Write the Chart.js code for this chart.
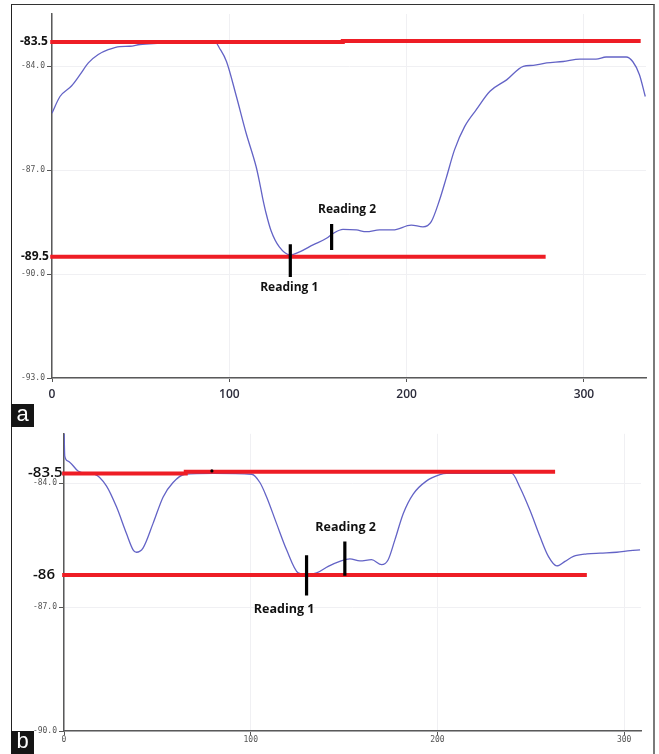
<!DOCTYPE html>
<html><head><meta charset="utf-8">
<script src="https://cdn.jsdelivr.net/npm/chart.js@4"></script>
<style>
html,body{margin:0;padding:0;background:#fff;}
body{width:659px;height:754px;position:relative;overflow:hidden;}
.wrap{position:absolute;}
#wa{left:11px;top:4px;width:644px;height:423px;}
#wb{left:11px;top:427px;width:644px;height:327px;}
#frame{position:absolute;left:11px;top:4px;width:644px;height:760px;box-sizing:border-box;border-left:1.5px solid #222;border-top:1.5px solid #333;border-right:2px solid #7a7a7a;pointer-events:none;}
.tag{position:absolute;left:11px;width:23px;height:23px;background:#151515;color:#fff;font:22px 'Liberation Sans',Arial,sans-serif;text-align:center;line-height:20px;}
</style>
</head><body>
<div class="wrap" id="wa"><canvas id="ca" width="644" height="423"></canvas></div>
<div class="wrap" id="wb"><canvas id="cb" width="644" height="327"></canvas></div>
<div id="frame"></div>
<div class="tag" style="top:404px;">a</div>
<div class="tag" style="top:731px;">b</div>
<script>
// ---------- Panel a data ----------
const A_X = [0,4.5,11.1,15.8,20.5,26.1,31.7,38.3,43.9,49.6,60.8,70,80,91.8,94.4,98.4,104,109.5,115.1,117.0,118.8,120.7,123.6,128.2,134.3,139.7,147.2,154.8,158.5,164.1,171.7,177.3,184.8,192.3,202.6,209.2,213.9,218.6,222.4,227,232.7,239.3,247,256.4,265.8,271.4,279,288.3,297.7,306.8,312.5,323.8,327.5,331.3,334.6];
const A_Y = [-85.36,-84.88,-84.57,-84.25,-83.91,-83.67,-83.53,-83.44,-83.43,-83.38,-83.34,-83.31,-83.30,-83.29,-83.48,-83.87,-84.88,-85.94,-86.90,-87.34,-87.81,-88.24,-88.76,-89.22,-89.45,-89.36,-89.16,-88.97,-88.83,-88.71,-88.73,-88.78,-88.73,-88.73,-88.59,-88.64,-88.49,-87.86,-87.22,-86.42,-85.75,-85.26,-84.73,-84.40,-84.01,-83.98,-83.91,-83.87,-83.80,-83.80,-83.74,-83.74,-83.87,-84.25,-84.88];
const A_XTICKS = [0,100,200,300];
const A_YTICKS = [-93,-90,-87,-84];
const A_XMAX = 335, A_YMIN = -93, A_YMAX = -82.5;
// reference lines (red)
const A_TOP_X = [-1,164,164,332];
const A_TOP_Y = [-83.31,-83.31,-83.28,-83.28];
const A_BOT_X = [-1,278.4];
const A_BOT_Y = [-89.5,-89.5];
const A_LINE_LABELS = ['-83.5','-89.5'];
const A_LINE_LABEL_Y = [-83.3,-89.5];
// reading markers
const A_READ_X = [134.4,157.7];
const A_READ_Y0 = [-89.14,-88.56];
const A_READ_Y1 = [-90.09,-89.31];
const A_READ_TEXT = ['Reading 1','Reading 2'];
const A_READ_TX = [133.8,166.4];
const A_READ_TY = [-90.38,-88.15];

// ---------- Panel b data ----------
const B_X = [0,0.4,2.1,7.5,12,16.5,22.7,28.1,33.4,37,38.8,42.3,47.7,53.1,58.4,64.7,80,100.4,104.9,108.5,113.8,119.2,125.4,129.9,135.3,141.5,147.7,153.1,158.5,164.7,170.1,173.6,177.2,181.7,187,194.2,201.3,204.9,220,239.8,244.2,249.6,254.9,259.4,263.9,268.3,272.8,280,287.1,296,303.2,308.5];
const B_Y = [-82.6,-83.34,-83.46,-83.70,-83.76,-83.78,-84.06,-84.57,-85.21,-85.61,-85.67,-85.57,-84.97,-84.33,-83.98,-83.78,-83.76,-83.78,-83.98,-84.33,-84.97,-85.61,-86.17,-86.21,-86.17,-86.01,-85.89,-85.83,-85.88,-85.85,-85.97,-85.85,-85.37,-84.73,-84.26,-83.94,-83.79,-83.76,-83.76,-83.76,-84.1,-84.66,-85.29,-85.77,-86.0,-85.89,-85.77,-85.71,-85.69,-85.67,-85.63,-85.61];
const B_XTICKS = [0,100,200,300];
const B_YTICKS = [-90,-87,-84];
const B_XMAX = 309, B_YMIN = -90, B_YMAX = -82.8;
const B_TOP_X = [-1,65.2,65.2,263];
const B_TOP_Y = [-83.76,-83.76,-83.72,-83.72];
const B_BOT_X = [-1,280];
const B_BOT_Y = [-86.22,-86.22];
const B_LINE_LABELS = ['-83.5','-86'];
const B_LINE_LABEL_Y = [-83.74,-86.22];
const B_READ_X = [129.9,150.4];
const B_READ_Y0 = [-85.74,-85.41];
const B_READ_Y1 = [-86.72,-86.24];
const B_READ_TEXT = ['Reading 1','Reading 2'];
const B_READ_TX = [117.9,150.8];
const B_READ_TY = [-87.06,-85.07];
const B_DOT_X = [79.2];
const B_DOT_Y = [-83.7];

const zip = (xs, ys) => xs.map((x,i)=>({x, y: ys[i]}));

const annotPlugin = {
  id: 'annot',
  afterDatasetsDraw(chart, args, o) {
    const {ctx, chartArea, scales} = chart;
    const xs = scales.x, ys = scales.y;
    ctx.save();
    ctx.textBaseline = 'middle';
    // line labels on the left of the axis
    ctx.font = o.lineFont; ctx.fillStyle = '#111'; ctx.textAlign = 'left';
    o.lineLabels.forEach((t,i)=> ctx.fillText(t, chartArea.left - o.lineDx[i], ys.getPixelForValue(o.lineLabelY[i])));
    // reading labels
    ctx.font = o.readFont; ctx.textAlign = 'center';
    o.readText.forEach((t,i)=> ctx.fillText(t, xs.getPixelForValue(o.readTX[i]), ys.getPixelForValue(o.readTY[i])));
    ctx.restore();
  }
};

function makeChart(id, cfg) {
  const blue = {data: zip(cfg.X, cfg.Y), borderColor:'#6363c6', borderWidth:1.3, pointRadius:0, cubicInterpolationMode:'monotone', fill:false, order:5};
  const red = (xs, ys) => ({data: zip(xs, ys), borderColor:'#ee1d25', borderWidth:4, pointRadius:0, tension:0, clip:false, fill:false, order:3, borderCapStyle:'butt'});
  const marks = cfg.readX.map((x,i)=>({data:[{x, y:cfg.readY0[i]},{x, y:cfg.readY1[i]}], borderColor:'#000', borderWidth:3.2, pointRadius:0, clip:false, fill:false, order:1}));
  const datasets = [blue, red(cfg.topX, cfg.topY), red(cfg.botX, cfg.botY), ...marks];
  if (cfg.dotX) datasets.push({data: zip(cfg.dotX, cfg.dotY), showLine:false, pointRadius:1.6, pointBackgroundColor:'#000', pointBorderWidth:0, order:0});
  return new Chart(document.getElementById(id), {
    type:'line',
    data:{datasets},
    plugins:[annotPlugin],
    options:{
      responsive:false, animation:false, devicePixelRatio:1,
      layout:{padding:cfg.pad},
      plugins:{legend:{display:false}, tooltip:{enabled:false},
        annot:{lineLabels:cfg.lineLabels, lineLabelY:cfg.lineLabelY, lineFont:cfg.lineFont, lineDx:cfg.lineDx,
               readText:cfg.readText, readTX:cfg.readTX, readTY:cfg.readTY, readFont:cfg.readFont}},
      scales:{
        x:{type:'linear', min:0, max:cfg.xmax,
           afterBuildTicks(s){ s.ticks = cfg.xticks.map(v=>({value:v})); },
           afterFit(s){ s.height = cfg.xh; },
           grid:{color:'#f0f0f3', lineWidth:1, tickColor:'#555', tickLength:4},
           border:{color:'#5a5a5a', width:1.5},
           ticks:{font:cfg.xfont, color:cfg.xcolor, padding:cfg.xpad, maxRotation:0, autoSkip:false, callback:v=>String(v)}},
        y:{type:'linear', min:cfg.ymin, max:cfg.ymax,
           afterBuildTicks(s){ s.ticks = cfg.yticks.map(v=>({value:v})); },
           afterFit(s){ s.width = cfg.yw; },
           grid:{color:'#f0f0f3', lineWidth:1, tickColor:'#555', tickLength:5},
           border:{color:'#5a5a5a', width:1.5},
           ticks:{font:{family:'"DejaVu Sans Mono", monospace', size:8}, color:'#555', padding:2, autoSkip:false, callback:v=>Number(v).toFixed(1)}}
      }
    }
  });
}

makeChart('ca', {
  X:A_X, Y:A_Y, xmax:A_XMAX, ymin:A_YMIN, ymax:A_YMAX, xticks:A_XTICKS, yticks:A_YTICKS,
  topX:A_TOP_X, topY:A_TOP_Y, botX:A_BOT_X, botY:A_BOT_Y,
  readX:A_READ_X, readY0:A_READ_Y0, readY1:A_READ_Y1,
  lineLabels:A_LINE_LABELS, lineLabelY:A_LINE_LABEL_Y, lineFont:'bold 12px "Open Sans", sans-serif', lineDx:[32,31],
  readText:A_READ_TEXT, readTX:A_READ_TX, readTY:A_READ_TY, readFont:'bold 12px "Open Sans", sans-serif',
  pad:{top:10, right:9, left:0, bottom:0}, xh:49, yw:41,
  xfont:{family:'"Open Sans", sans-serif', size:12, weight:'600'}, xcolor:'#2b2b3a', xpad:5
});
makeChart('cb', {
  X:B_X, Y:B_Y, xmax:B_XMAX, ymin:B_YMIN, ymax:B_YMAX, xticks:B_XTICKS, yticks:B_YTICKS,
  topX:B_TOP_X, topY:B_TOP_Y, botX:B_BOT_X, botY:B_BOT_Y,
  readX:B_READ_X, readY0:B_READ_Y0, readY1:B_READ_Y1, dotX:B_DOT_X, dotY:B_DOT_Y,
  lineLabels:B_LINE_LABELS, lineLabelY:B_LINE_LABEL_Y, lineFont:'600 15px "Open Sans", sans-serif', lineDx:[36,31],
  readText:B_READ_TEXT, readTX:B_READ_TX, readTY:B_READ_TY, readFont:'bold 12.5px "Open Sans", sans-serif',
  pad:{top:1, right:14, left:0, bottom:0}, xh:23, yw:53,
  xfont:{family:'"DejaVu Sans Mono", monospace', size:8}, xcolor:'#555', xpad:0
});
</script>
</body></html>
